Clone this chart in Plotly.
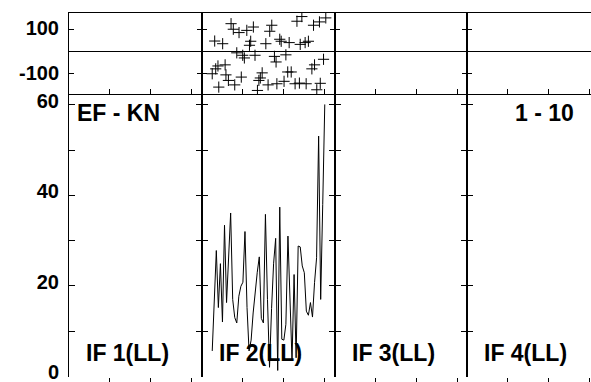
import plotly.graph_objects as go
from plotly.subplots import make_subplots

# ---- data ----
line_x = list(range(5, 61))
line_y = [5.6, 17, 27.8, 15.2, 24.9, 12.0, 33.4, 16.3, 26, 36.1,
          17.0, 13.0, 11.8, 17.7, 19.9, 20.8, 32.0, 15.2, 5.6, 8,
          14, 19, 23, 26.4, 12.8, 11.8, 35.8, 17, 2, 15,
          25, 30.5, 1.3, 37.4, 8.2, 8.0, 11.5, 31.0, 15.2, 3.4,
          22.5, 4.1, 28.8, 28.6, 24.4, 22.9, 14.4, 13.5, 16.3, 13.1,
          20.7, 26.2, 53.1, 17.0, 38, 60.1]

cross_x = [5.0, 6.2, 6.7, 7.8, 8.2, 10.1, 11.3, 11.7, 12.9, 14.2,
           15.3, 16.0, 17.0, 18.1, 19.2, 19.9, 20.7, 21.9, 23.2, 23.8,
           25.1, 25.9, 27.1, 27.8, 28.5, 29.4, 31.2, 32.3, 33.1, 34.1,
           35.4, 36.2, 36.6, 38.0, 38.7, 40.1, 41.0, 41.9, 42.6, 43.6,
           45.5, 46.4, 47.6, 48.0, 48.8, 50.4, 50.9, 52.0, 53.7, 54.5,
           55.0, 56.1, 57.4, 57.8, 59.4, 60.5]
cross_y = [-99, 48, -77, -64, -159, 36, -59, -104, -129, 126,
           101, -149, -5, 86, -114, -16, -28, 96, 29, 47,
           111, -16, -174, -129, -118, -95, 36, -149, 92, 119,
           -21, -46, -144, 56, 47, -133, -14, -91, 41, -91,
           -144, 137, -141, 33, 158, 41, -144, 47, -77, 119,
           -59, -171, 134, -142, -34, 152]

panel_labels = ["IF 1(LL)", "IF 2(LL)", "IF 3(LL)", "IF 4(LL)"]
left_title = "EF - KN"
right_title = "1 - 10"

top_tickvals = [-100, 100]
top_ticktext = ["-100", "100"]
bottom_tickvals = [0, 10, 20, 30, 40, 50, 60]
bottom_ticktext = ["0", "", "20", "", "40", "", "60"]
x_tickvals = [20, 40, 60]

# ---- layout geometry ----
W, H = 591, 382
ML, MR, MT, MB = 69, 0, 13, 5
col_px = [133, 133, 132, 124]
row_px = [81, 283]
col_span = 65.0
top_range = [-190, 174]
bottom_range = [-0.15, 62.4]

fig = make_subplots(rows=2, cols=4, column_widths=col_px, row_heights=row_px,
                    horizontal_spacing=0, vertical_spacing=0)

# empty traces so that every panel gets its frame drawn
for r in (1, 2):
    for c in range(1, 5):
        fig.add_trace(go.Scatter(x=[], y=[], mode="lines", showlegend=False,
                                 hoverinfo="skip"), row=r, col=c)

fig.add_trace(go.Scatter(x=cross_x, y=cross_y, mode="markers",
                         marker=dict(symbol="cross-thin", size=8,
                                     line=dict(color="black", width=1)),
                         showlegend=False), row=1, col=2)
fig.add_trace(go.Scatter(x=line_x, y=line_y, mode="lines",
                         line=dict(color="black", width=1),
                         showlegend=False), row=2, col=2)

tfont = dict(family="Liberation Sans, Arial", size=20, color="black", weight="bold")

for c in range(1, 5):
    xr = [0, col_span * col_px[c - 1] / col_px[0]]
    last = (c == 4)
    # top row
    fig.update_xaxes(row=1, col=c, range=xr, tickvals=x_tickvals, showticklabels=False,
                     ticks="inside", ticklen=5, tickcolor="black", showline=True,
                     linecolor="black", linewidth=1, mirror=True, showgrid=False,
                     zeroline=False)
    fig.update_yaxes(row=1, col=c, range=top_range, tickvals=top_tickvals,
                     ticktext=top_ticktext, showticklabels=(c == 1), tickfont=tfont,
                     ticks="inside", ticklen=5, tickcolor="black", showline=True,
                     linecolor="black", linewidth=1, mirror=(False if last else "ticks"),
                     showgrid=False, zeroline=True, zerolinecolor="black",
                     zerolinewidth=1, ticklabelstandoff=5, ticklabeloverflow="allow",
                     ticklabelshift=-1)
    # bottom row
    fig.update_xaxes(row=2, col=c, range=xr, tickvals=x_tickvals, showticklabels=False,
                     ticks="outside", ticklen=6, tickcolor="black", showline=False,
                     showgrid=False, zeroline=False)
    fig.update_yaxes(row=2, col=c, range=bottom_range, tickvals=bottom_tickvals,
                     ticktext=bottom_ticktext, showticklabels=(c == 1), tickfont=tfont,
                     ticks="inside", ticklen=6, tickcolor="black", showline=True,
                     linecolor="black", linewidth=1, mirror=(False if last else "ticks"),
                     showgrid=False, zeroline=False, ticklabelstandoff=5,
                     ticklabeloverflow="allow", ticklabelshift=-4)

plot_w = W - ML - MR
plot_h = H - MT - MB

def px_x(px):
    return (px - ML) / plot_w

def px_y(py):
    return (H - MB - py) / plot_h

afont = dict(family="Liberation Sans, Arial", size=23, color="black")
annots = []
col_starts = [ML]
for w in col_px[:-1]:
    col_starts.append(col_starts[-1] + w)
for lbl, cs in zip(panel_labels, col_starts):
    annots.append(dict(text="<b>%s</b>" % lbl, x=px_x(cs + 15), y=px_y(353),
                       xref="paper", yref="paper", xanchor="left", yanchor="middle",
                       showarrow=False, font=afont))
annots.append(dict(text="<b>%s</b>" % left_title, x=px_x(75), y=px_y(113),
                   xref="paper", yref="paper", xanchor="left", yanchor="middle",
                   showarrow=False, font=afont))
annots.append(dict(text="<b>%s</b>" % right_title, x=px_x(576), y=px_y(113),
                   xref="paper", yref="paper", xanchor="right", yanchor="middle",
                   showarrow=False, font=afont))

fig.update_layout(width=W, height=H, margin=dict(l=ML, r=MR, t=MT, b=MB),
                  paper_bgcolor="white", plot_bgcolor="white",
                  annotations=annots, showlegend=False)

fig.write_html("out.html", config={"displayModeBar": False},
               post_script="document.body.style.margin='0';")
